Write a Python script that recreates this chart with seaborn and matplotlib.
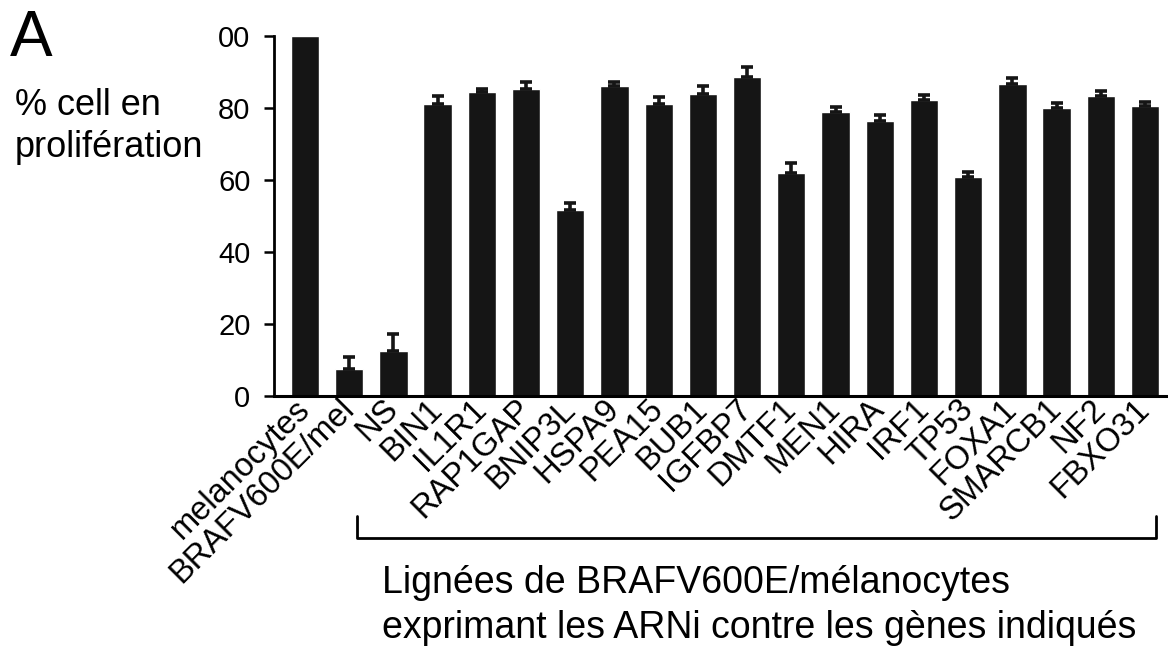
import seaborn as sns
import matplotlib.pyplot as plt
import matplotlib.transforms as mtransforms
import numpy as np
import pandas as pd

# values
labels = ['melanocytes', 'BRAFV600E/mel', 'NS', 'BIN1', 'IL1R1', 'RAP1GAP', 'BNIP3L',
          'HSPA9', 'PEA15', 'BUB1', 'IGFBP7', 'DMTF1', 'MEN1', 'HIRA', 'IRF1', 'TP53',
          'FOXA1', 'SMARCB1', 'NF2', 'FBXO31']
values = [100, 7.6, 12.6, 81.0, 84.4, 85.4, 51.7, 86.1, 81.2, 83.9, 88.7, 61.9,
          78.9, 76.5, 82.1, 60.7, 86.7, 80.1, 83.4, 80.5]
errUp = [0, 3.1, 4.6, 2.3, 1.0, 1.9, 1.8, 1.2, 1.8, 2.3, 2.6, 2.7,
         1.4, 1.5, 1.6, 1.5, 1.7, 1.2, 1.3, 1.2]
yticks = [0, 20, 40, 60, 80, 100]
yticklabels = ['0', '20', '40', '60', '80', '00']

sns.set_style('ticks', {'text.color': 'black', 'axes.edgecolor': 'black',
                        'xtick.color': 'black', 'ytick.color': 'black',
                        'axes.labelcolor': 'black'})
plt.rcParams['font.family'] = ['Liberation Sans', 'DejaVu Sans']

fig = plt.figure(figsize=(11.68, 6.5), dpi=100)
ax = fig.add_axes([0.2346, 0.3908, 0.7654, 0.5538])

data = pd.DataFrame({'gene': labels, 'pct': values})
sns.barplot(x='gene', y='pct', data=data, color='#151515', saturation=1,
            width=0.64, errorbar=None, ax=ax)

# one-sided error bars (upper only)
pos = np.arange(len(labels))
vals = np.array(values)
err = np.array(errUp)
keep = err > 0
ax.errorbar(pos[keep], vals[keep], yerr=[np.zeros(keep.sum()), err[keep]],
            fmt='none', ecolor='#151515', elinewidth=2.6, capsize=4, capthick=2.6)

ax.set_xlim(-0.70, 19.52)
ax.set_ylim(0, 100)
ax.set_yticks(yticks)
ax.set_yticklabels(yticklabels, fontsize=21)
ax.set_xlabel('')
ax.set_ylabel('')
sns.despine(ax=ax)
ax.spines['left'].set_linewidth(2)
ax.spines['bottom'].set_linewidth(2.2)
ax.tick_params(axis='y', length=7, width=1.8, pad=10, colors='black')
ax.tick_params(axis='x', length=0, pad=6, colors='black')
for lbl in ax.get_xticklabels():
    lbl.set_rotation(45)
    lbl.set_ha('right')
    lbl.set_va('center')
    lbl.set_rotation_mode('anchor')
    lbl.set_fontsize(23.5)

# bracket under the knockdown lines
trans = mtransforms.blended_transform_factory(ax.transData, ax.transAxes)
ax.plot([1.18, 1.18, 19.25, 19.25], [-0.333, -0.395, -0.395, -0.333],
        color='black', lw=2, transform=trans, clip_on=False)

fig.text(10 / 1168, 1 - 56 / 650, 'A', fontsize=46, va='baseline', color='black')
fig.text(15 / 1168, 1 - 115 / 650, '% cell en', fontsize=26, va='baseline', color='black')
fig.text(15 / 1168, 1 - 157 / 650, 'prolifération', fontsize=26, va='baseline', color='black')
fig.text(382 / 1168, 1 - 593 / 650, 'Lignées de BRAFV600E/mélanocytes', fontsize=27,
         va='baseline', color='black')
fig.text(382 / 1168, 1 - 638 / 650, 'exprimant les ARNi contre les gènes indiqués', fontsize=27,
         va='baseline', color='black')

plt.savefig('out.png', dpi=100)
